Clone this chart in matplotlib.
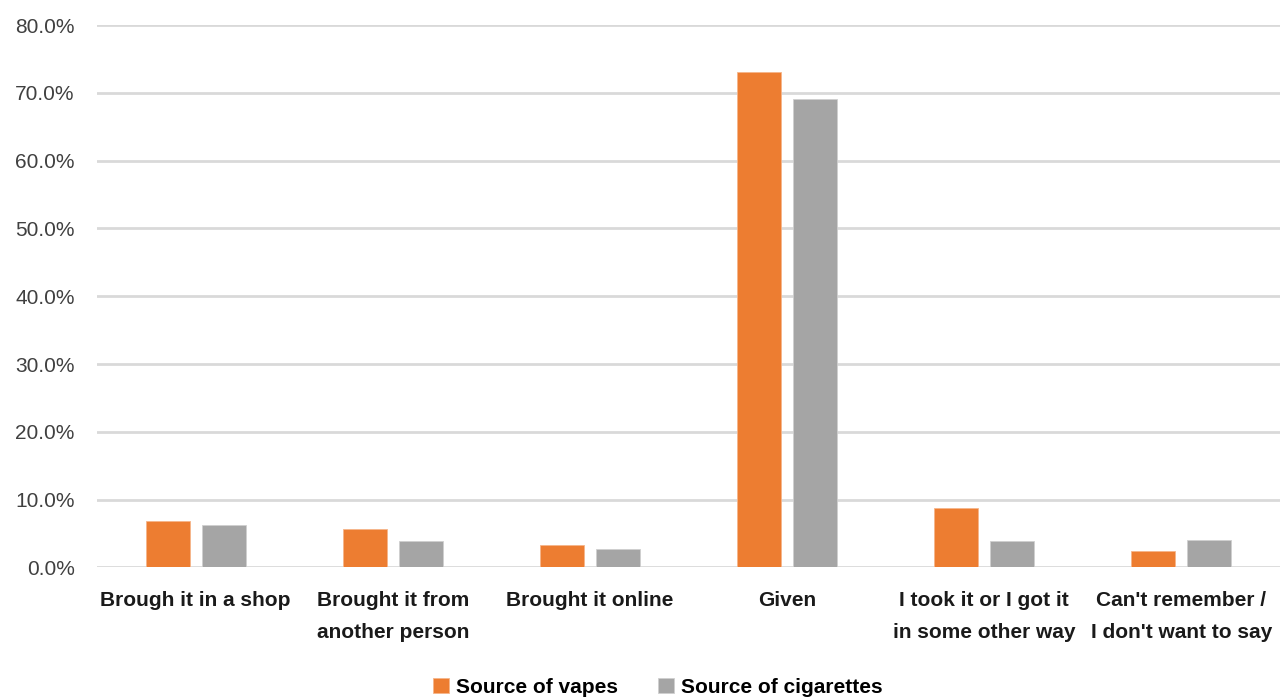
import matplotlib
matplotlib.use("Agg")
import matplotlib.pyplot as plt
from matplotlib.ticker import FuncFormatter
import numpy as np

categories = [
    "Brough it in a shop",
    "Brought it from\nanother person",
    "Brought it online",
    "Given",
    "I took it or I got it\nin some other way",
    "Can't remember /\nI don't want to say",
]
vapes = [6.9, 5.6, 3.3, 73.1, 8.7, 2.4]
cigarettes = [6.3, 3.9, 2.7, 69.1, 3.9, 4.1]
series_names = ["Source of vapes", "Source of cigarettes"]
y_ticks = [0, 10, 20, 30, 40, 50, 60, 70, 80]

plt.rcParams['font.family'] = ['Liberation Sans', 'DejaVu Sans']

fig = plt.figure(figsize=(12.8, 6.97), dpi=100)
ax = fig.add_axes([0.0758, 0.186, 0.924, 0.778])

x = np.arange(len(categories))
w = 0.223
off = 0.142
ax.bar(x - off, vapes, w, color="#ED7D31", edgecolor="#F6B58A", linewidth=0.6,
       label=series_names[0], zorder=3)
ax.bar(x + off, cigarettes, w, color="#A5A5A5", edgecolor="#CFCFCF", linewidth=0.6,
       label=series_names[1], zorder=3)

ax.set_xlim(-0.5, len(categories) - 0.5)
ax.set_ylim(0, 80)
ax.set_yticks(y_ticks)
ax.yaxis.set_major_formatter(FuncFormatter(lambda v, p: f"{v:.1f}%"))
ax.grid(axis="y", color="#D9D9D9", linewidth=2, zorder=0)
ax.set_axisbelow(True)
for s in ax.spines.values():
    s.set_visible(False)
ax.tick_params(axis="y", length=0, pad=16, labelsize=15, labelcolor="#404040")
ax.tick_params(axis="x", length=0, pad=17)
ax.set_xticks(x)
ax.set_xticklabels(categories, fontsize=15, fontweight="bold", color="#1a1a1a",
                   linespacing=1.9, va="top")

fig.legend(loc="center", bbox_to_anchor=(0.514, 0.014), ncol=2, frameon=False,
           handlelength=0.75, handleheight=0.75, handletextpad=0.35, columnspacing=1.9,
           prop={'weight': 'bold', 'size': 15}, borderaxespad=0, borderpad=0)

fig.savefig("out.png", dpi=100, facecolor="white")
